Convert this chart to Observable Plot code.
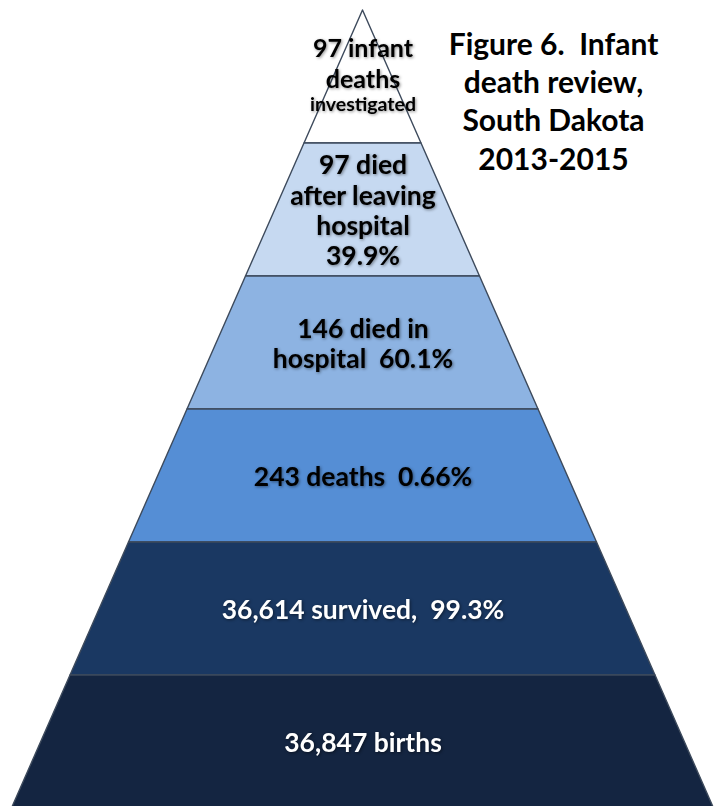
<!DOCTYPE html>
<html>
<head>
<meta charset="utf-8">
<script src="https://cdn.jsdelivr.net/npm/d3@7"></script>
<script src="https://cdn.jsdelivr.net/npm/@observablehq/plot@0.6"></script>
<style>
  html, body { margin: 0; padding: 0; background: #ffffff; }
  #chart svg { display: block; }
  #chart text { white-space: pre; }
  #chart g.bandlabel text { filter: drop-shadow(1px 1px 1.5px rgba(0,0,0,0.45)); }
</style>
</head>
<body>
<div id="chart"></div>
<script>
// ---- data ----
const bandNames = ["investigated", "afterHospital", "inHospital", "deaths", "survived", "births"];
const bandLabels = [
  "97 infant\ndeaths",
  "97 died\nafter leaving\nhospital\n39.9%",
  "146 died in\nhospital  60.1%",
  "243 deaths  0.66%",
  "36,614 survived,  99.3%",
  "36,847 births"
];
const subLabel = "investigated";
const bandColors = ["#ffffff", "#c6d9f1", "#8db3e2", "#558ed5", "#1a3862", "#142541"];
const labelColors = ["#000000", "#000000", "#000000", "#000000", "#ffffff", "#ffffff"];
const titleLines = ["Figure 6.  Infant", "death review,", "South Dakota", "2013-2015"];

// ---- derived table ----
const nLevels = bandNames.length;
const bandEdges = [];
bandNames.forEach((name, i) => {
  for (const lvl of [i, i + 1]) {
    bandEdges.push({band: name, level: lvl, half: lvl / nLevels, color: bandColors[i]});
  }
});
const labels = bandNames.map((name, i) => ({
  band: name, mid: i + 0.5, text: bandLabels[i], color: labelColors[i]
}));

const font = "Lato, 'Open Sans', 'DejaVu Sans', sans-serif";

const chart = Plot.plot({
  width: 714,
  height: 806,
  marginTop: 0, marginBottom: 0, marginLeft: 0, marginRight: 0,
  style: {fontFamily: font, background: "#ffffff"},
  x: {domain: [-1, 1], range: [11.5, 713.5], axis: null},
  y: {domain: [0, nLevels], range: [10, 808], axis: null},
  color: {type: "identity"},
  marks: [
    Plot.areaX(bandEdges, {
      y: "level",
      x1: d => -d.half,
      x2: d => d.half,
      z: "band",
      fill: "color",
      stroke: "#3d4a5c",
      strokeWidth: 1.4,
      curve: "linear"
    }),
    Plot.text(labels.slice(1), {
      x: 0, y: "mid", text: "text", fill: "color",
      fontSize: 26.5, fontWeight: "bold", lineHeight: 1.15, lineAnchor: "middle",
      className: "bandlabel"
    }),
    Plot.text(labels.slice(0, 1), {
      x: 0, y: "mid", text: "text", fill: "color",
      fontSize: 25, fontWeight: "bold", lineHeight: 1.24, lineAnchor: "middle",
      dy: -14, className: "bandlabel"
    }),
    Plot.text([subLabel], {
      x: 0, y: 0.5, text: d => d, fill: "#000000",
      fontSize: 19.5, fontWeight: "bold", lineAnchor: "middle",
      dy: 28, className: "bandlabel"
    }),
    Plot.text([titleLines.join("\n")], {
      frameAnchor: "top-left", text: d => d, fill: "#000000",
      fontSize: 30, fontWeight: "bold", lineHeight: 1.28,
      textAnchor: "middle", lineAnchor: "middle", dx: 553, dy: 99.5
    })
  ]
});
document.getElementById("chart").appendChild(chart);
</script>
</body>
</html>
